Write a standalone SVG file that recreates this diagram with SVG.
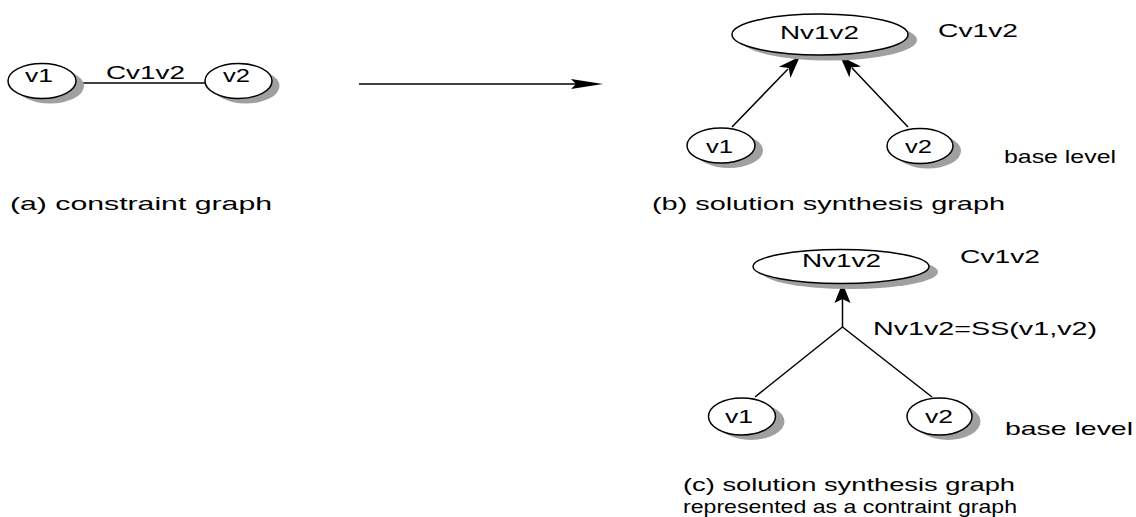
<svg xmlns="http://www.w3.org/2000/svg" width="1136" height="517" viewBox="0 0 1136 517">
  <style>
    .bg { fill: #ffffff; }
    .node { fill: #ffffff; stroke: #000000; stroke-width: 1.5; }
    .shadow { fill: #a0a0a0; stroke: none; }
    .edge { fill: none; stroke: #000000; stroke-width: 1.5; }
    .head { fill: #000000; stroke: none; }
    text { font-family: "Liberation Sans", Arial, sans-serif; font-size: 18.5px; fill: #000000; }
  </style>
  <rect class="bg" x="0" y="0" width="1136" height="517"/>

  <!-- connectors -->
  <g id="connectors">
    <!-- (a) constraint edge -->
    <line class="edge" x1="76" y1="83" x2="205" y2="83"/>
    <!-- transformation arrow -->
    <line class="edge" x1="359" y1="84" x2="576" y2="84"/>
    <polygon class="head" points="603,84 571,79 576,84 571,89"/>
    <!-- (b) arrows into Nv1v2 -->
    <line class="edge" x1="732" y1="127" x2="788" y2="69"/>
    <polygon class="head" points="800,56.5 790.4,77.9 788.8,68 778.9,66.7"/>
    <line class="edge" x1="908" y1="127" x2="852" y2="68"/>
    <polygon class="head" points="840,56 861,66.4 851.1,67.6 849.4,77.4"/>
    <!-- (c) hyperedge -->
    <line class="edge" x1="755" y1="397" x2="842.5" y2="327"/>
    <line class="edge" x1="932" y1="397" x2="842.5" y2="327"/>
    <line class="edge" x1="842.5" y1="327" x2="842.5" y2="299"/>
    <polygon class="head" points="842.5,283 850.5,303 842.5,299 834.5,303"/>
  </g>

  <!-- (a) constraint graph -->
  <g id="a-v1">
    <ellipse class="shadow" cx="50" cy="86" rx="34" ry="17.5"/>
    <ellipse class="node" cx="42" cy="81" rx="34" ry="17.5"/>
    <text x="25" y="82" textLength="28" lengthAdjust="spacingAndGlyphs">v1</text>
  </g>
  <g id="a-v2">
    <ellipse class="shadow" cx="246" cy="86" rx="33.5" ry="17.5"/>
    <ellipse class="node" cx="238.5" cy="81" rx="33.5" ry="17.5"/>
    <text x="223" y="82" textLength="27" lengthAdjust="spacingAndGlyphs">v2</text>
  </g>
  <text id="a-edge-label" x="106" y="79" textLength="79" lengthAdjust="spacingAndGlyphs">Cv1v2</text>
  <text id="a-caption" x="10" y="210" textLength="262" lengthAdjust="spacingAndGlyphs">(a) constraint graph</text>

  <!-- (b) solution synthesis graph -->
  <g id="b-n">
    <ellipse class="shadow" cx="829" cy="40" rx="88" ry="20.5"/>
    <ellipse class="node" cx="820" cy="34.5" rx="88" ry="20.5"/>
    <text x="780" y="39" textLength="79" lengthAdjust="spacingAndGlyphs">Nv1v2</text>
  </g>
  <text id="b-c" x="938" y="37" textLength="80" lengthAdjust="spacingAndGlyphs">Cv1v2</text>
  <g id="b-v1">
    <ellipse class="shadow" cx="729" cy="150.5" rx="34" ry="17.5"/>
    <ellipse class="node" cx="721" cy="145.5" rx="34" ry="17.5"/>
    <text x="706" y="153" textLength="27" lengthAdjust="spacingAndGlyphs">v1</text>
  </g>
  <g id="b-v2">
    <ellipse class="shadow" cx="928" cy="151" rx="33" ry="17.5"/>
    <ellipse class="node" cx="920" cy="146" rx="33" ry="17.5"/>
    <text x="905" y="153" textLength="27" lengthAdjust="spacingAndGlyphs">v2</text>
  </g>
  <text id="b-base" x="1004" y="163" textLength="112" lengthAdjust="spacingAndGlyphs">base level</text>
  <text id="b-caption" x="652" y="210" textLength="353" lengthAdjust="spacingAndGlyphs">(b) solution synthesis graph</text>

  <!-- (c) solution synthesis graph as a constraint graph -->
  <g id="c-n">
    <ellipse class="shadow" cx="850" cy="272" rx="88" ry="17"/>
    <ellipse class="node" cx="841" cy="266.5" rx="88" ry="17"/>
    <text x="802" y="267" textLength="79" lengthAdjust="spacingAndGlyphs">Nv1v2</text>
  </g>
  <text id="c-c" x="960" y="263" textLength="80" lengthAdjust="spacingAndGlyphs">Cv1v2</text>
  <text id="c-ss" x="873" y="335" textLength="224" lengthAdjust="spacingAndGlyphs">Nv1v2=SS(v1,v2)</text>
  <g id="c-v1">
    <ellipse class="shadow" cx="751" cy="421.5" rx="33.5" ry="18.5"/>
    <ellipse class="node" cx="742" cy="416.5" rx="33.5" ry="18.5"/>
    <text x="725" y="423" textLength="28" lengthAdjust="spacingAndGlyphs">v1</text>
  </g>
  <g id="c-v2">
    <ellipse class="shadow" cx="948" cy="421.5" rx="32.5" ry="18.5"/>
    <ellipse class="node" cx="939.5" cy="416.5" rx="32.5" ry="18.5"/>
    <text x="925" y="423" textLength="28" lengthAdjust="spacingAndGlyphs">v2</text>
  </g>
  <text id="c-base" x="1005" y="435" textLength="128" lengthAdjust="spacingAndGlyphs">base level</text>
  <text id="c-caption1" x="683" y="491" textLength="332" lengthAdjust="spacingAndGlyphs">(c) solution synthesis graph</text>
  <text id="c-caption2" x="683" y="513" textLength="334" lengthAdjust="spacingAndGlyphs">represented as a contraint graph</text>
</svg>
